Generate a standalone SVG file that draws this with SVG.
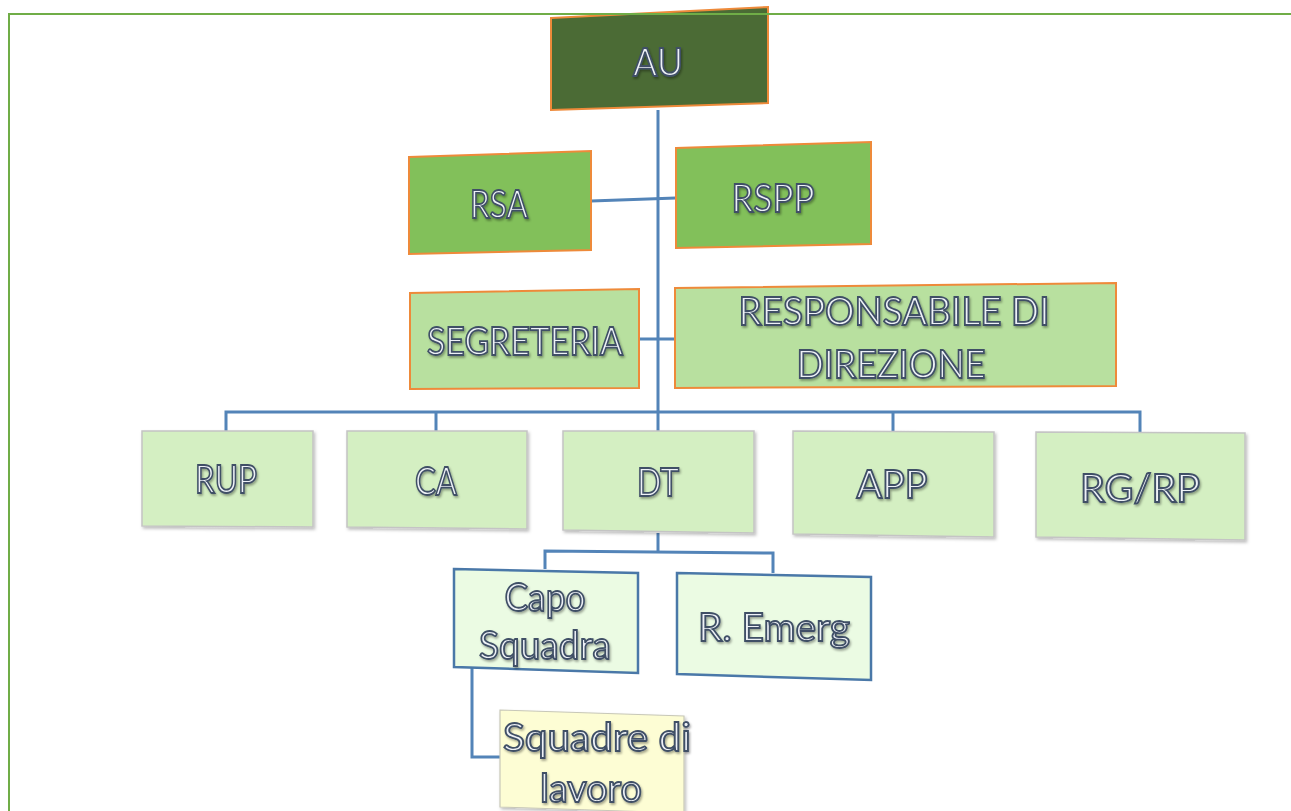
<svg xmlns="http://www.w3.org/2000/svg" width="1291" height="811" viewBox="0 0 1291 811">
<defs>
<filter id="ts" x="-10%" y="-20%" width="130%" height="160%"><feDropShadow dx="1.2" dy="1.8" stdDeviation="1.2" flood-color="#000" flood-opacity="0.35"/></filter>
<filter id="bs" x="-5%" y="-5%" width="115%" height="120%"><feDropShadow dx="1.5" dy="2" stdDeviation="1.5" flood-color="#000" flood-opacity="0.25"/></filter>
</defs>
<style>
.t{font-family:Lato,"Open Sans","Liberation Sans",sans-serif;font-size:38px;fill:#eef1f7;stroke:#3f4f66;stroke-width:1.8px;text-anchor:middle;filter:url(#ts)}
.c{fill:none;stroke:#5384b8;stroke-width:3;stroke-linejoin:miter}
.top{stroke:#ee8a3a;stroke-width:2}
.low{fill:#d4efc2;stroke:#c4c4c4;stroke-width:1.5;filter:url(#bs)}
.sub{fill:#ebfbe3;stroke:#4a78a8;stroke-width:2.5}
</style>
<rect width="1291" height="811" fill="#ffffff"/>
<g id="connectors">
<path class="c" d="M658,110 V412"/>
<path class="c" d="M591,201 L676,198"/>
<path class="c" d="M639,339 H675"/>
<path class="c" d="M226,431 V412 H1140 V432"/>
<path class="c" d="M436,412 V431"/>
<path class="c" d="M893,412 V431"/>
<path class="c" d="M658,412 V431"/>
<path class="c" d="M658,533 V551"/>
<path class="c" d="M545,569 V551 L773,553 V573"/>
<path class="c" d="M472,667 V757 H500"/>
</g>
<g id="node-AU">
<polygon class="top" points="551,18 768,7 768,103 551,110" fill="#4b6b35" stroke-width="2.5"/>
<text class="t" x="658" y="76" textLength="50" lengthAdjust="spacingAndGlyphs">AU</text>
</g>
<g id="node-RSA">
<polygon class="top" points="409,157 591,151 591,250 409,254" fill="#82c05a" stroke-width="1.5"/>
<text class="t" x="499" y="218" textLength="58" lengthAdjust="spacingAndGlyphs">RSA</text>
</g>
<g id="node-RSPP">
<polygon class="top" points="676,148 871,142 871,244 676,248" fill="#82c05a" stroke-width="1.5"/>
<text class="t" x="773" y="212" textLength="83" lengthAdjust="spacingAndGlyphs">RSPP</text>
</g>
<g id="node-SEGRETERIA">
<polygon class="top" points="410,293 639,289 639,388 410,389" fill="#b8e09f" stroke-width="1.5"/>
<text class="t" x="525" y="355" textLength="196" lengthAdjust="spacingAndGlyphs">SEGRETERIA</text>
</g>
<g id="node-RESPONSABILE">
<polygon class="top" points="675,288 1116,283 1116,386 675,388" fill="#b8e09f" stroke-width="1.5"/>
<text class="t" x="894" y="325" textLength="311" lengthAdjust="spacingAndGlyphs">RESPONSABILE DI</text>
<text class="t" x="891" y="378" textLength="189" lengthAdjust="spacingAndGlyphs">DIREZIONE</text>
</g>
<g id="node-RUP">
<polygon class="low" points="142,431 313,431 313,527 142,526"/>
<text class="t" x="226" y="493" textLength="62" lengthAdjust="spacingAndGlyphs">RUP</text>
</g>
<g id="node-CA">
<polygon class="low" points="347,431 527,431 527,529 347,527"/>
<text class="t" x="436" y="495" textLength="42" lengthAdjust="spacingAndGlyphs">CA</text>
</g>
<g id="node-DT">
<polygon class="low" points="563,431 754,431 754,533 563,530"/>
<text class="t" x="658" y="496" textLength="42" lengthAdjust="spacingAndGlyphs">DT</text>
</g>
<g id="node-APP">
<polygon class="low" points="793,431 994,432 994,537 793,534"/>
<text class="t" x="892" y="498" textLength="71" lengthAdjust="spacingAndGlyphs">APP</text>
</g>
<g id="node-RGRP">
<polygon class="low" points="1036,432 1245,433 1245,540 1036,537"/>
<text class="t" x="1140" y="502" textLength="120" lengthAdjust="spacingAndGlyphs">RG/RP</text>
</g>
<g id="node-Capo">
<polygon class="sub" points="454,569 638,573 638,673 454,667"/>
<text class="t" x="545" y="611" textLength="81" lengthAdjust="spacingAndGlyphs">Capo</text>
<text class="t" x="545" y="659" textLength="132" lengthAdjust="spacingAndGlyphs">Squadra</text>
</g>
<g id="node-REmerg">
<polygon class="sub" points="677,573 871,577 871,680 677,674"/>
<text class="t" x="774" y="641" textLength="152" lengthAdjust="spacingAndGlyphs">R. Emerg</text>
</g>
<g id="node-Squadre">
<polygon points="500,710 684,716 684,813 500,807" fill="#fdfdd4" stroke="#c8c8b8" stroke-width="1.2" filter="url(#bs)"/>
<text class="t" x="597" y="751" textLength="188" lengthAdjust="spacingAndGlyphs">Squadre di</text>
<text class="t" x="591" y="802" textLength="102" lengthAdjust="spacingAndGlyphs">lavoro</text>
</g>
<g id="border">
<path d="M9,811 V14 H1291" fill="none" stroke="#70ad47" stroke-width="2"/>
</g>
</svg>
